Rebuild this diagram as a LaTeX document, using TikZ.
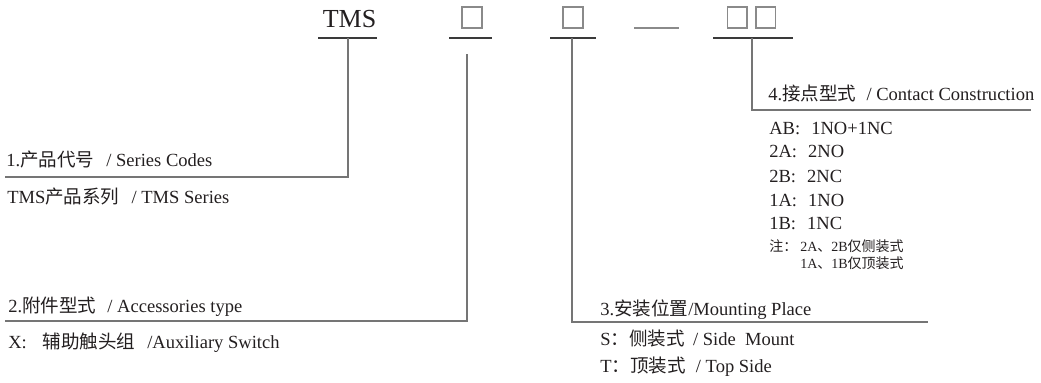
\documentclass[tikz,border=0pt]{standalone}
\usepackage{fontspec}
\setmainfont{Liberation Serif}
\newfontfamily\cjk{Noto Sans CJK SC}
\definecolor{txt}{HTML}{231F20}
\definecolor{ln}{HTML}{757575}
\definecolor{ul}{HTML}{3A3A3A}
\definecolor{bx}{HTML}{8A8A8A}
\begin{document}
\begin{tikzpicture}[x=0.75pt,y=-0.75pt,
  lbl/.style={anchor=base west,inner sep=0pt,text=txt,font=\fontsize{13.9}{16}\selectfont},
  note/.style={anchor=base west,inner sep=0pt,text=txt,font=\fontsize{10.5}{12}\selectfont},
  leader/.style={draw=ln,line width=1pt},
  uline/.style={draw=ul,line width=0.9pt},
  slot/.style={draw=bx,line width=0.8pt}]
\useasboundingbox (0,0) rectangle (1041,382);
% header
\node[anchor=base,inner sep=0pt,text=txt,font=\fontsize{19.5}{22}\selectfont] (tms) at (349.5,27) {TMS};
\draw[slot] (462,7) rectangle (482,28);
\draw[slot] (563,7) rectangle (583,28);
\draw[slot] (727.5,7) rectangle (747,28);
\draw[slot] (756,7) rectangle (775.5,28);
\draw[draw=bx,line width=0.9pt] (634,28) -- (679,28);
% underlines
\coordinate (u1a) at (318,38); \coordinate (u1b) at (377,38);
\coordinate (u2a) at (449,38); \coordinate (u2b) at (492,38);
\coordinate (u3a) at (550,38); \coordinate (u3b) at (596,38);
\coordinate (u4a) at (713,38); \coordinate (u4b) at (793,38);
\draw[uline] (u1a) -- (u1b);
\draw[uline] (u2a) -- (u2b);
\draw[uline] (u3a) -- (u3b);
\draw[uline] (u4a) -- (u4b);
% leaders
\coordinate (v1t) at (348,38);  \coordinate (v1c) at (348,177); \coordinate (h1e) at (5,177);
\coordinate (v2t) at (467,54);  \coordinate (v2c) at (467,321); \coordinate (h2e) at (5,321);
\coordinate (v3t) at (572,38);  \coordinate (v3c) at (572,322); \coordinate (h3e) at (928,322);
\coordinate (v4t) at (752,38);  \coordinate (v4c) at (752,110); \coordinate (h4e) at (1031,110);
\draw[leader] (v1t) -- (v1c) -- (h1e);
\draw[leader] (v2t) -- (v2c) -- (h2e);
\draw[leader] (v3t) -- (v3c) -- (h3e);
\draw[leader] (v4t) -- (v4c) -- (h4e);
% group 1
\node[lbl] (l1) at (6,166) {1.{\cjk 产品代号}\hspace{0.65em}/ Series Codes};
\node[lbl] (l1a) at (7,203) {TMS{\cjk 产品系列}\hspace{0.65em}/ TMS Series};
% group 2
\node[lbl] (l2) at (8,312) {2.{\cjk 附件型式}\hspace{0.6em}/ Accessories type};
\node[lbl] (l2a) at (8,348) {X:\hspace{0.85em}{\cjk 辅助触头组}\hspace{0.65em}/Auxiliary Switch};
% group 3
\node[lbl] (l3) at (600,315) {3.{\cjk 安装位置}/Mounting Place};
\node[lbl] (l3a) at (600,345) {S{\cjk ：侧装式}\hspace{0.45em}/ Side\ \ Mount};
\node[lbl] (l3b) at (600,372) {T{\cjk ：顶装式}\hspace{0.55em}/ Top Side};
% group 4
\node[lbl] (l4) at (768,100) {4.{\cjk 接点型式}\hspace{0.55em}/ Contact Construction};
\node[lbl] (l4a) at (769,134) {AB:\hspace{0.6em}1NO+1NC};
\node[lbl] (l4b) at (769,157) {2A:\hspace{0.6em}2NO};
\node[lbl] (l4c) at (769,182) {2B:\hspace{0.6em}2NC};
\node[lbl] (l4d) at (769,206) {1A:\hspace{0.6em}1NO};
\node[lbl] (l4e) at (769,229) {1B:\hspace{0.6em}1NC};
\node[note] (n1) at (769,251) {\makebox[23.25pt][l]{\cjk 注：}2A{\cjk 、}2B{\cjk 仅侧装式}};
\node[note] (n2) at (800,268) {1A{\cjk 、}1B{\cjk 仅顶装式}};
\end{tikzpicture}
\end{document}
